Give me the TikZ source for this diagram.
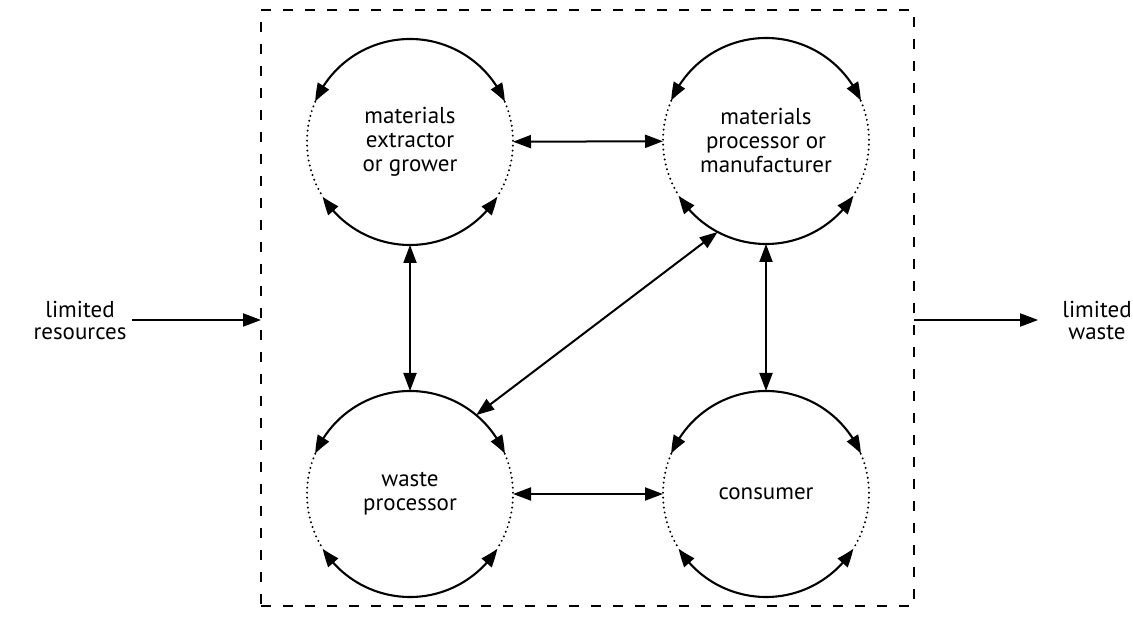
\documentclass[tikz,border=0pt]{standalone}
\usepackage{fontspec}
\setmainfont{PT Sans}
\usetikzlibrary{arrows.meta,bending}
\begin{document}
\begin{tikzpicture}[x=1pt,y=1pt,
  stage/.style={circle, minimum size=206pt, inner sep=0pt, outer sep=0pt, align=center,
    font=\fontsize{23}{24}\selectfont},
  lbl/.style={align=center, inner sep=0pt, font=\fontsize{23}{22}\selectfont},
  loopy/.style={line width=2.1pt,
    {Triangle[length=18pt,width=13pt,bend]}-{Triangle[length=18pt,width=13pt,bend]}},
  side/.style={line width=2.2pt, line cap=round, dash pattern=on 0pt off 5pt},
  link/.style={line width=2pt,
    {Triangle[length=18pt,width=13pt]}-{Triangle[length=18pt,width=13pt]}},
  flow/.style={line width=2pt, -{Triangle[length=18pt,width=13pt]}},
  frame/.style={draw, line width=2.2pt, dash pattern=on 10pt off 12pt,
    minimum width=653pt, minimum height=596pt, inner sep=0pt, outer sep=0pt}]
\path[use as bounding box] (0,0) rectangle (1133,627);
\node[frame] (box) at (587.5,319) {};
\node[stage] (c1) at (410,485) {materials\\extractor\\or grower};
\node[stage] (c2) at (766,486) {materials\\processor or\\manufacturer};
\node[stage] (c3) at (410,133) {waste\\processor};
\node[stage] (c4) at (766,133) {consumer};
\foreach \c in {c1,c2,c3,c4} {
  \draw[loopy] (\c.157) arc[start angle=157,end angle=23,radius=103];
  \draw[loopy] (\c.212) arc[start angle=212,end angle=328,radius=103];
  \draw[side] (\c.23) arc[start angle=23,end angle=-32,radius=103];
  \draw[side] (\c.157) arc[start angle=157,end angle=212,radius=103];
}
\draw[link] (c1) -- (c2);
\draw[link] (c3) -- (c4);
\draw[link] (c1) -- (c3);
\draw[link] (c2) -- (c4);
\draw[link] (c2.242) -- (c3.50);
\node[lbl] (res) at (80,307) {limited\\resources};
\node[lbl] (wst) at (1097,307) {limited\\waste};
\draw[flow] ([xshift=5pt]res.east) -- (res.east -| box.west);
\draw[flow] (box.east |- wst.west) -- ([xshift=-24pt]wst.west);
\end{tikzpicture}
\end{document}
